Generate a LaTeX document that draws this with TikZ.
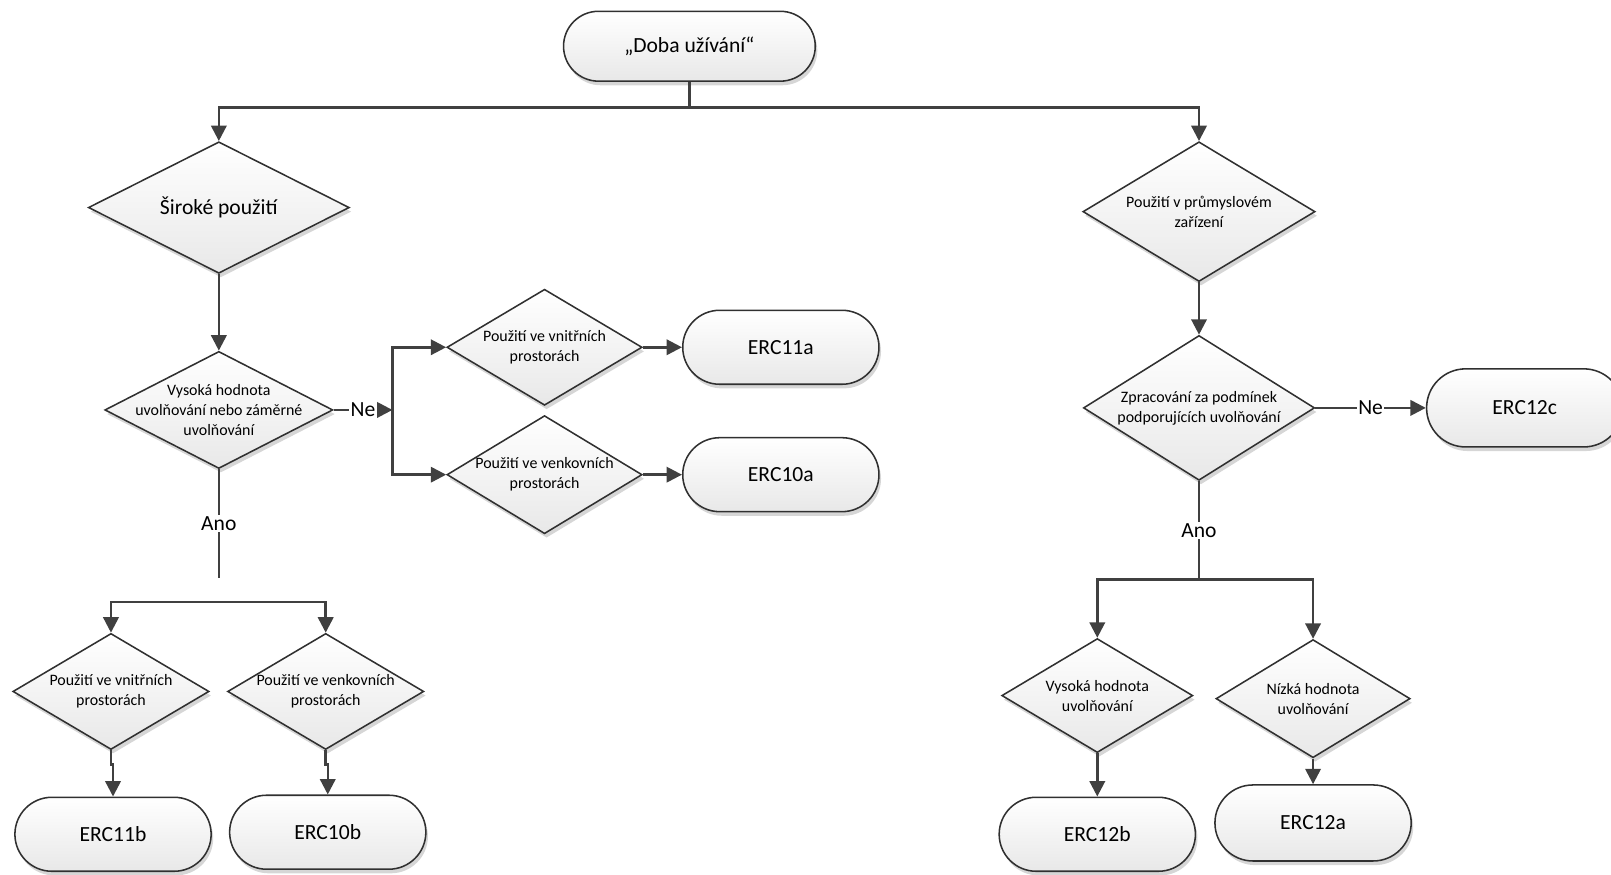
\documentclass[tikz,border=0pt]{standalone}
\usepackage{fontspec}
\setmainfont{Carlito}
\usetikzlibrary{shapes.geometric,shapes.misc,arrows.meta,shadows}

\definecolor{lineclr}{HTML}{404040}
\definecolor{edgeclr}{HTML}{303030}

\begin{document}
\begin{tikzpicture}[
    x=1pt, y=-1pt,
    >={Triangle[length=15pt,width=15pt]},
    every node/.style={font=\fontsize{21}{25}\selectfont},
    shapebase/.style={
        draw=edgeclr,
        line width=1.5pt,
        top color=white,
        bottom color=black!9,
        drop shadow={shadow xshift=2pt, shadow yshift=-4pt,
            opacity=0.16, fill=black}
    },
    terminal/.style={
        shapebase,
        rounded rectangle,
        minimum width=191pt,
        minimum height=72pt,
        inner sep=0pt
    },
    decision/.style={shapebase, diamond, inner sep=0pt},
    dectext/.style={font=\fontsize{15.5}{19.5}\selectfont, align=center},
    flow/.style={->, draw=lineclr, line width=2.4pt},
    plain/.style={draw=lineclr, line width=2.4pt},
    lbl/.style={fill=white, inner sep=1.5pt}
]

    \useasboundingbox (0,0) rectangle (1568,851);

    % start
    \node[terminal, minimum width=245pt, minimum height=68pt]
        (start) at (671,45) {„Doba užívání“};

    % left branch
    \node[
        decision,
        minimum width=254pt,
        minimum height=128pt,
        label={center:Široké použití}
    ] (siroke) at (213,202) {};

    \node[
        decision,
        minimum width=222pt,
        minimum height=114pt,
        label={[dectext]center:Vysoká hodnota\\uvolňování nebo záměrné\\uvolňování}
    ] (vysoka) at (213,399) {};

    \node[
        decision,
        minimum width=190pt,
        minimum height=113pt,
        label={[dectext]center:Použití ve vnitřních\\prostorách}
    ] (vnitrA) at (530,338) {};

    \node[
        decision,
        minimum width=190pt,
        minimum height=115pt,
        label={[dectext]center:Použití ve venkovních\\prostorách}
    ] (venkA) at (530,462) {};

    \node[terminal] (erc11a) at (760,338) {ERC11a};
    \node[terminal] (erc10a) at (760,462) {ERC10a};

    \node[
        decision,
        minimum width=191pt,
        minimum height=113pt,
        label={[dectext]center:Použití ve vnitřních\\prostorách}
    ] (vnitrB) at (108,673) {};

    \node[
        decision,
        minimum width=191pt,
        minimum height=113pt,
        label={[dectext]center:Použití ve venkovních\\prostorách}
    ] (venkB) at (317,673) {};

    \node[terminal] (erc11b) at (110,812) {ERC11b};
    \node[terminal] (erc10b) at (319,810) {ERC10b};

    % right branch
    \node[
        decision,
        minimum width=226pt,
        minimum height=136pt,
        label={[dectext]center:Použití v průmyslovém\\zařízení}
    ] (prum) at (1167,206) {};

    \node[
        decision,
        minimum width=225pt,
        minimum height=141pt,
        label={[dectext]center:Zpracování za podmínek\\podporujících uvolňování}
    ] (zprac) at (1167,397) {};

    \node[terminal, minimum height=76pt] (erc12c) at (1484,397) {ERC12c};

    \node[
        decision,
        minimum width=186pt,
        minimum height=111pt,
        label={[dectext]center:Vysoká hodnota\\uvolňování}
    ] (vysokaR) at (1068,677) {};

    \node[
        decision,
        minimum width=189pt,
        minimum height=115pt,
        label={[dectext]center:Nízká hodnota\\uvolňování}
    ] (nizka) at (1278,680) {};

    \node[terminal] (erc12b) at (1068,812) {ERC12b};
    \node[terminal, minimum height=74pt] (erc12a) at (1278,801) {ERC12a};

    % connectors
    \draw[flow] (start.south) -- ++(0,25) -| (siroke.north);
    \draw[flow] (start.south) -- ++(0,25) -| (prum.north);

    \draw[flow] (siroke.south) -- (vysoka.north);

    \coordinate (neL) at (382,399);
    \draw[flow] (vysoka.east) -- node[lbl] {Ne} (neL);
    \draw[flow] (neL) |- (vnitrA.west);
    \draw[flow] (neL) |- (venkA.west);
    \draw[flow] (vnitrA.east) -- (erc11a.west);
    \draw[flow] (venkA.east) -- (erc10a.west);

    \coordinate (anoL) at (213,563);
    \coordinate (barL) at (213,586);
    \draw[plain] (vysoka.south) -- node[lbl] {Ano} (anoL);
    \draw[flow] (barL) -| (vnitrB.north);
    \draw[flow] (barL) -| (venkB.north);
    \draw[flow] (vnitrB.south) -- ++(0,14) -| (erc11b.north);
    \draw[flow] (venkB.south) -- ++(0,14) -| (erc10b.north);

    \draw[flow] (prum.south) -- (zprac.north);
    \draw[flow] (zprac.east) -- node[lbl] {Ne} (erc12c.west);

    \coordinate (anoR) at (1167,564);
    \draw[plain] (zprac.south) -- node[lbl] {Ano} (anoR);
    \draw[flow] (anoR) -| (vysokaR.north);
    \draw[flow] (anoR) -| (nizka.north);
    \draw[flow] (vysokaR.south) -- (erc12b.north);
    \draw[flow] (nizka.south) -- (erc12a.north);

\end{tikzpicture}
\end{document}
